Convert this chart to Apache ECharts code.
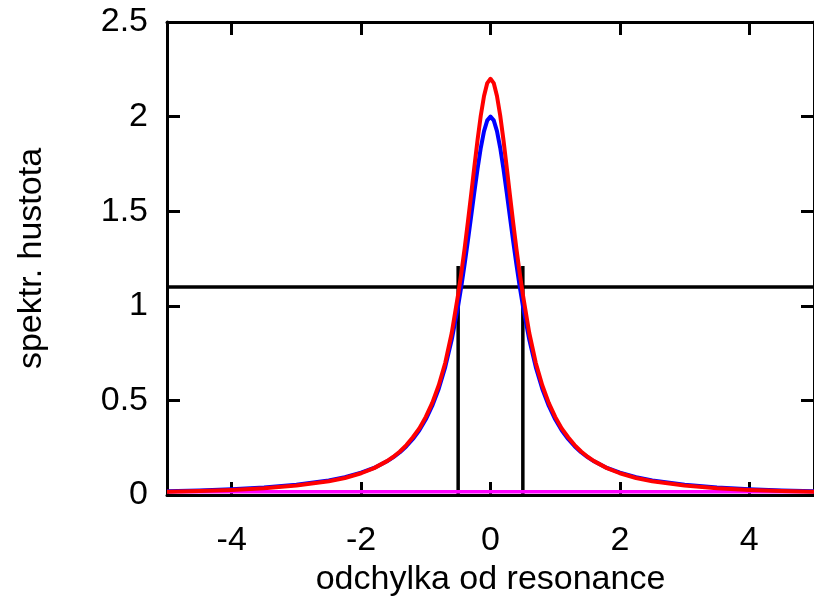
<!DOCTYPE html>
<html>
<head>
<meta charset="utf-8">
<script src="https://cdn.jsdelivr.net/npm/echarts@6/dist/echarts.min.js"></script>
<style>
html,body{margin:0;padding:0;background:#fff;}
#chart{width:814px;height:602px;}
</style>
</head>
<body>
<div id="chart"></div>
<script>
// Data
const xs = [-5,-4.5,-4,-3.5,-3,-2.5,-2.25,-2,-1.8,-1.6,-1.5,-1.4,-1.3,-1.2,-1.1,-1,-0.9,-0.8,-0.7,-0.6,
            -0.5,-0.45,-0.4,-0.35,-0.3,-0.25,-0.2,-0.15,-0.1,-0.05,
            0,0.05,0.1,0.15,0.2,0.25,0.3,0.35,0.4,0.45,0.5,
            0.6,0.7,0.8,0.9,1,1.1,1.2,1.3,1.4,1.5,1.6,1.8,2,2.25,2.5,3,3.5,4,4.5,5];
const blueVals = [0.02,0.024,0.031,0.04,0.054,0.077,0.094,0.118,0.143,0.178,0.2,0.226,0.258,0.296,0.342,0.4,0.472,0.562,0.676,0.82,
            1.0,1.105,1.22,1.342,1.471,1.6,1.724,1.835,1.923,1.98,
            2.0,1.98,1.923,1.835,1.724,1.6,1.471,1.342,1.22,1.105,1.0,
            0.82,0.676,0.562,0.472,0.4,0.342,0.296,0.258,0.226,0.2,0.178,0.143,0.118,0.094,0.077,0.054,0.04,0.031,0.024,0.02];
const redVals = [0.017,0.021,0.027,0.036,0.05,0.073,0.09,0.115,0.142,0.179,0.202,0.23,0.264,0.305,0.352,0.413,0.487,0.58,0.698,0.855,
            1.06,1.176,1.303,1.441,1.586,1.734,1.877,2.006,2.109,2.177,
            2.2,2.177,2.109,2.006,1.877,1.734,1.586,1.441,1.303,1.176,1.06,
            0.855,0.698,0.58,0.487,0.413,0.352,0.305,0.264,0.23,0.202,0.179,0.142,0.115,0.09,0.073,0.05,0.036,0.027,0.021,0.017];
const magentaY = 0.017;
const halfLevel = 1.1;
const markerXs = [-0.5, 0.5];
const markerTop = 1.21;
const xRange = [-5, 5];
const yRange = [0, 2.5];
const xTicks = [-4, -2, 0, 2, 4];
const yTicks = [0, 0.5, 1, 1.5, 2, 2.5];

const font = 'Liberation Sans, Arial, Helvetica, sans-serif';
const pairs = (xa, ya) => xa.map((x, i) => [x, ya[i]]);

const chart = echarts.init(document.getElementById('chart'), null, {renderer: 'canvas'});

const axisCommon = {
  axisLine: {show: true, onZero: false, lineStyle: {color: '#000', width: 3}},
  splitLine: {show: false}
};

const option = {
  animation: false,
  backgroundColor: '#fff',
  grid: {left: 167, top: 22, width: 649, height: 474, containLabel: false},
  xAxis: [
    Object.assign({}, axisCommon, {
      type: 'value', min: xRange[0], max: xRange[1], position: 'bottom',
      axisTick: {show: true, inside: true, length: 13, customValues: xTicks, lineStyle: {color: '#000', width: 3}},
      axisLabel: {show: true, customValues: xTicks, margin: 29, fontSize: 34, color: '#000', fontFamily: font},
      name: 'odchylka od resonance', nameLocation: 'middle', nameGap: 68,
      nameTextStyle: {fontSize: 34, color: '#000', fontFamily: font}
    }),
    Object.assign({}, axisCommon, {
      type: 'value', min: xRange[0], max: xRange[1], position: 'top',
      axisTick: {show: true, inside: true, length: 13, customValues: xTicks, lineStyle: {color: '#000', width: 3}},
      axisLabel: {show: false}
    })
  ],
  yAxis: [
    Object.assign({}, axisCommon, {
      type: 'value', min: yRange[0], max: yRange[1], interval: 0.5, position: 'left',
      axisTick: {show: true, inside: true, length: 13, customValues: yTicks, lineStyle: {color: '#000', width: 3}},
      axisLabel: {show: true, customValues: yTicks, margin: 19, fontSize: 34, color: '#000', fontFamily: font},
      name: 'spektr. hustota', nameLocation: 'middle', nameGap: 118,
      nameTextStyle: {fontSize: 34, color: '#000', fontFamily: font}
    }),
    Object.assign({}, axisCommon, {
      type: 'value', min: yRange[0], max: yRange[1], interval: 0.5, position: 'right',
      axisTick: {show: true, inside: true, length: 13, customValues: yTicks, lineStyle: {color: '#000', width: 3}},
      axisLabel: {show: false}
    })
  ],
  series: [
    {type: 'line', data: [[xRange[0], halfLevel], [xRange[1], halfLevel]], symbol: 'none',
     lineStyle: {color: '#000', width: 3.5}, z: 2},
    {type: 'line', data: [[markerXs[0], 0], [markerXs[0], markerTop]], symbol: 'none',
     lineStyle: {color: '#000', width: 3.5}, z: 2},
    {type: 'line', data: [[markerXs[1], 0], [markerXs[1], markerTop]], symbol: 'none',
     lineStyle: {color: '#000', width: 3.5}, z: 2},
    {type: 'line', data: [[xRange[0], magentaY], [xRange[1], magentaY]], symbol: 'none',
     lineStyle: {color: '#ff00ff', width: 3.5}, z: 3},
    {type: 'line', data: pairs(xs, blueVals), symbol: 'none', smooth: false,
     lineStyle: {color: '#0000ff', width: 4, join: 'round'}, z: 4},
    {type: 'line', data: pairs(xs, redVals), symbol: 'none', smooth: false,
     lineStyle: {color: '#ff0000', width: 4, join: 'round'}, z: 5}
  ]
};
chart.setOption(option);
</script>
</body>
</html>
